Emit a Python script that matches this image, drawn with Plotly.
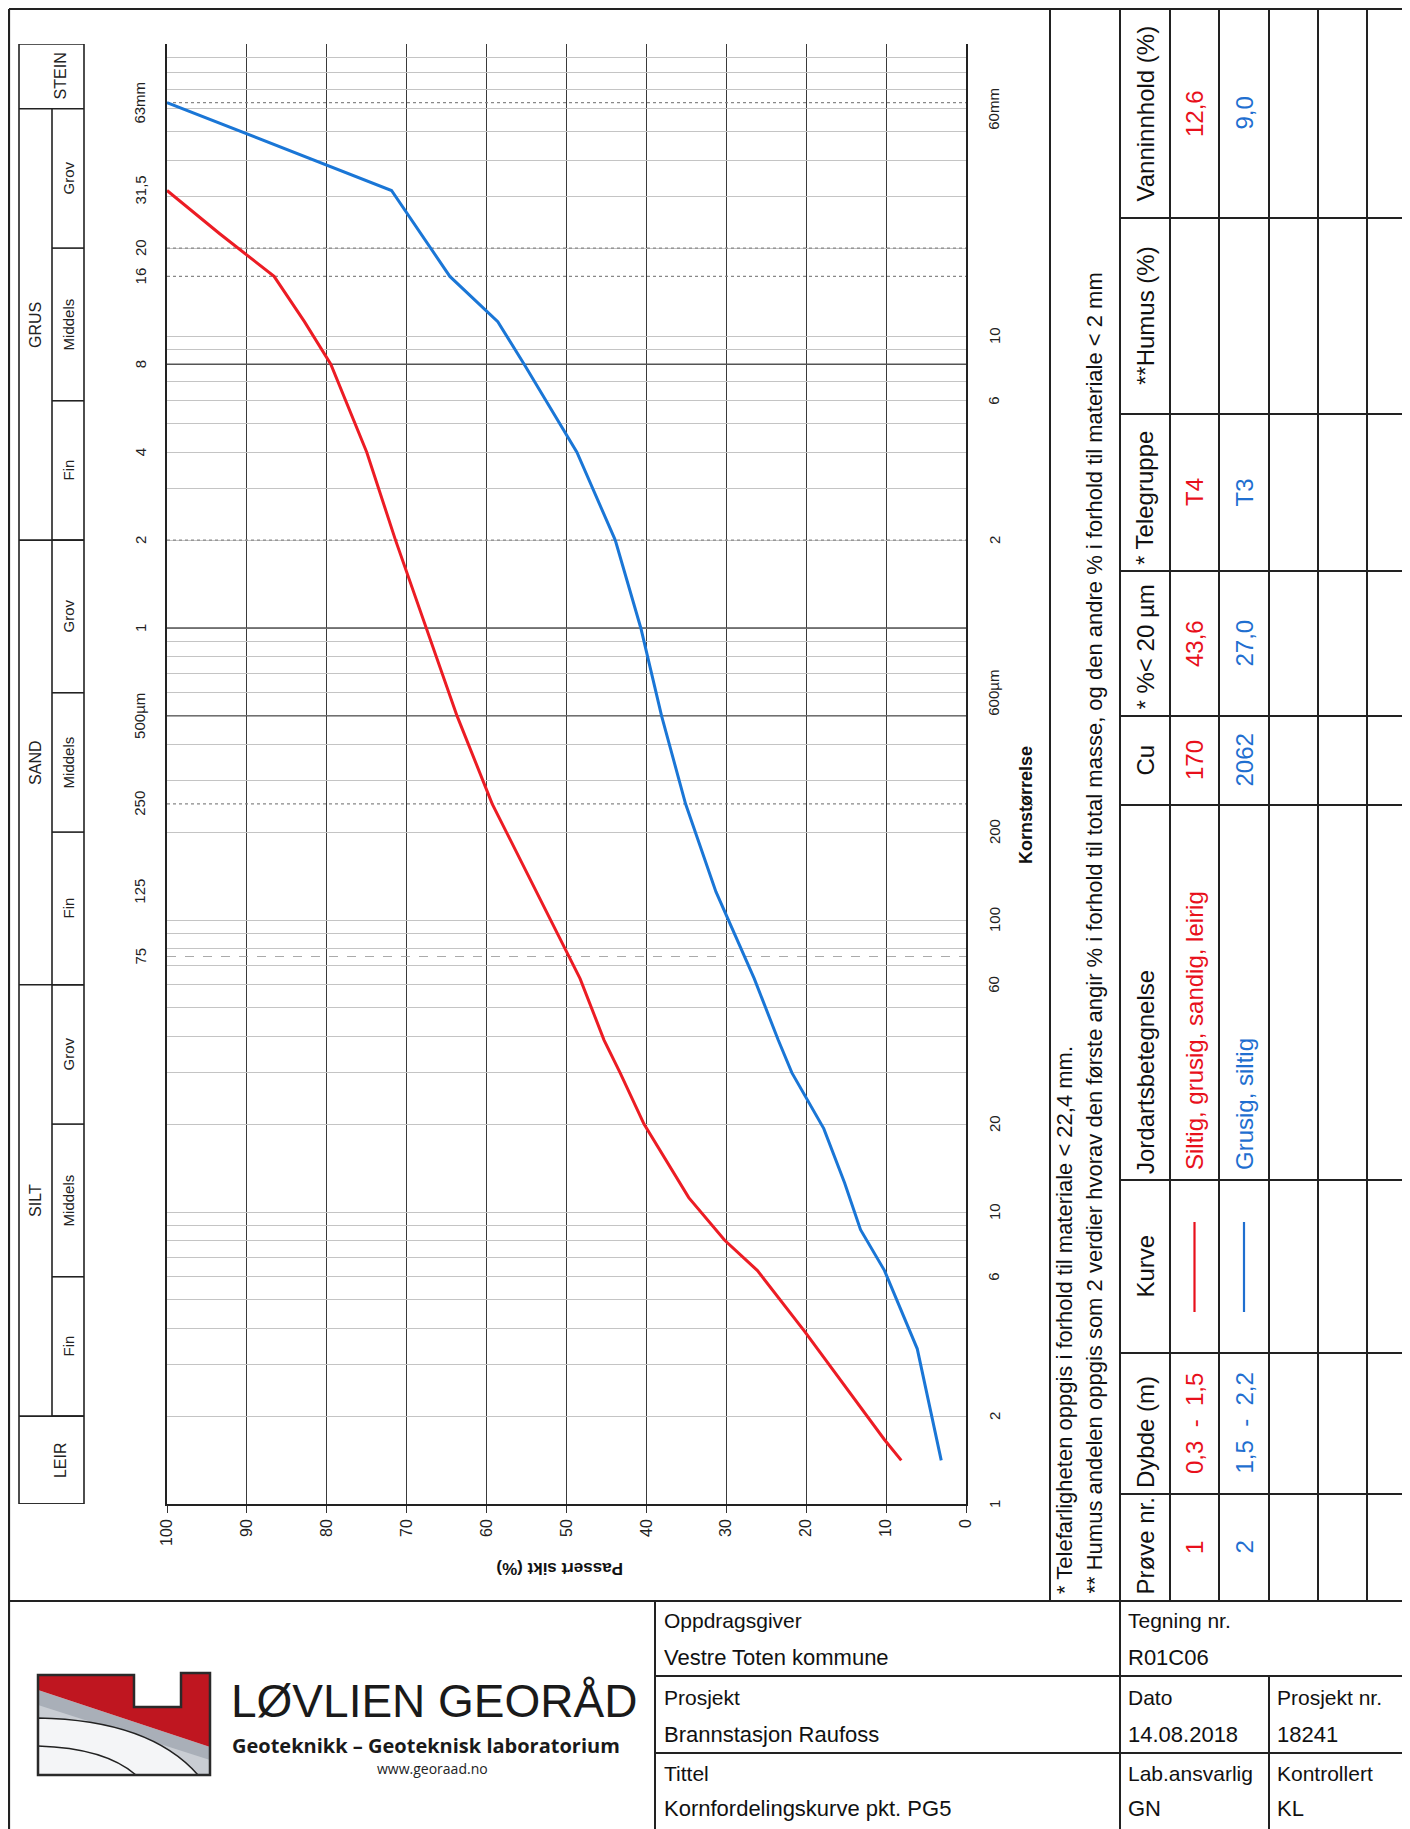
import math
import plotly.graph_objects as go

W, H = 1410, 1829          # browser window
OFF = 8                    # default body margin of the html page
FW, FH = W - OFF, H - OFF  # figure size

# ---------------- data ----------------
red_size = [31.5, 22.4, 16, 11.2, 8, 4, 2, 1, 0.5, 0.25, 0.125, 0.063, 0.0388, 0.03, 0.02,
            0.0112, 0.008, 0.0063, 0.0039, 0.00166, 0.00141]
red_pass = [100, 93.4, 86.6, 82.8, 79.5, 75.0, 71.4, 67.6, 63.7, 59.3, 53.8, 48.3, 45.3, 43.3, 40.3,
            34.7, 30.2, 26.1, 20.2, 10.2, 8.1]
blue_size = [63, 31.5, 16, 11.2, 8, 4, 2, 1, 0.5, 0.25, 0.125, 0.063, 0.0388, 0.03, 0.0193,
             0.0126, 0.0087, 0.0063, 0.0034, 0.00141]
blue_pass = [100, 71.9, 64.6, 58.6, 55.3, 48.7, 43.9, 40.7, 38.1, 35.1, 31.3, 26.5, 23.5, 21.8, 17.8,
             15.2, 13.2, 10.2, 6.1, 3.1]

pct_ticks = [0, 10, 20, 30, 40, 50, 60, 70, 80, 90, 100]
left_tick_vals = [63, 31.5, 20, 16, 8, 4, 2, 1, 0.5, 0.25, 0.125, 0.075]
left_tick_text = ["63mm", "31,5", "20", "16", "8", "4", "2", "1", "500µm", "250", "125", "75"]
right_tick_vals = [60, 10, 6, 2, 0.6, 0.2, 0.1, 0.06, 0.02, 0.01, 0.006, 0.002, 0.001]
right_tick_text = ["60mm", "10", "6", "2", "600µm", "200", "100", "60", "20", "10", "6", "2", "1"]

dark_lines = [8, 1, 0.5]
dotted_lines = [63, 20, 16, 2, 0.25]
dashed_lines = [0.075]

# soil classification strip
main_groups = [("STEIN", 60, 100), ("GRUS", 2, 60), ("SAND", 0.06, 2), ("SILT", 0.002, 0.06), ("LEIR", 0.001, 0.002)]
sub_groups = [("Grov", 20, 60), ("Middels", 6, 20), ("Fin", 2, 6),
              ("Grov", 0.6, 2), ("Middels", 0.2, 0.6), ("Fin", 0.06, 0.2),
              ("Grov", 0.02, 0.06), ("Middels", 0.006, 0.02), ("Fin", 0.002, 0.006)]

# table
headers = ["Vanninnhold (%)", "**Humus (%)", "* Telegruppe", "* %< 20 µm", "Cu",
           "Jordartsbetegnelse", "Kurve", "Dybde (m)", "Prøve nr."]
vann = ["12,6", "9,0"]
humus = ["", ""]
telegruppe = ["T4", "T3"]
pct20 = ["43,6", "27,0"]
cu = ["170", "2062"]
jordart = ["Siltig, grusig, sandig, leirig", "Grusig, siltig"]
dybde = ["0,3  -  1,5", "1,5  -  2,2"]
prove = ["1", "2"]

RED = "#ec1c24"
BLUE = "#1a76d6"
TRED = "#e8101c"
TBLUE = "#1f6fd0"
FONT = "Liberation Sans, Arial, sans-serif"

# layout geometry (page pixels)
PX0, PX1 = 167, 966
PY0, PY1 = 44, 1504

def fx(x):
    return (x - OFF) / FW

def fy(y):
    return 1 - (y - OFF) / FH

shapes = []
ann = []

def line(x0, y0, x1, y1, w=1.6, color="#222"):
    shapes.append(dict(type="line", xref="paper", yref="paper", x0=fx(x0), y0=fy(y0), x1=fx(x1), y1=fy(y1),
                       line=dict(color=color, width=w), layer="above"))

def text(x, y, s, size, angle=0, color="#111", xa="center", ya="middle", bold=False, family=FONT):
    if bold:
        s = "<b>" + s + "</b>"
    ann.append(dict(x=fx(x), y=fy(y), xref="paper", yref="paper", text=s, showarrow=False,
                    textangle=angle, xanchor=xa, yanchor=ya,
                    font=dict(size=size, color=color, family=family)))

def ytext(x, d_log, s, size):
    ann.append(dict(x=fx(x), y=d_log, xref="paper", yref="y", text=s, showarrow=False,
                    textangle=-90, xanchor="center", yanchor="middle",
                    font=dict(size=size, color="#222", family=FONT)))

fig = go.Figure()

# special sieve lines through axes
for d in dark_lines:
    fig.add_trace(go.Scatter(x=[100, 0], y=[d, d], mode="lines", line=dict(color="#555", width=1.4),
                             hoverinfo="skip", showlegend=False))
for d in dotted_lines:
    fig.add_trace(go.Scatter(x=[100, 0], y=[d, d], mode="lines", line=dict(color="#888", width=1.3, dash="dot"),
                             hoverinfo="skip", showlegend=False))
for d in dashed_lines:
    fig.add_trace(go.Scatter(x=[100, 0], y=[d, d], mode="lines", line=dict(color="#aaa", width=1.2, dash="dash"),
                             hoverinfo="skip", showlegend=False))

fig.add_trace(go.Scatter(x=red_pass, y=red_size, mode="lines", line=dict(color=RED, width=3),
                         name="Prøve 1", showlegend=False))
fig.add_trace(go.Scatter(x=blue_pass, y=blue_size, mode="lines", line=dict(color=BLUE, width=3),
                         name="Prøve 2", showlegend=False))

minor = []
for k in range(-3, 2):
    for n in range(1, 10):
        minor.append(n * 10 ** k)
minor.append(100)

fig.update_xaxes(domain=[fx(PX0), fx(PX1)], range=[100, 0], tickvals=pct_ticks,
                 ticktext=[str(v) for v in pct_ticks], tickangle=-90,
                 tickfont=dict(size=16, color="#222", family=FONT),
                 ticks="outside", ticklen=7, tickcolor="#333",
                 showgrid=True, gridcolor="#3a3a3a", gridwidth=1,
                 showline=True, linecolor="#222", linewidth=1.6, zeroline=False, mirror=False,
                 automargin=False)
fig.update_yaxes(domain=[fy(PY1), fy(PY0)], type="log", range=[-3, 2], tickvals=minor,
                 showticklabels=False, ticks="", showgrid=True, gridcolor="#c4c4c4", gridwidth=1,
                 showline=True, linecolor="#222", linewidth=1.6, mirror=True, zeroline=False,
                 automargin=False)

# axis label annotations
for v, t in zip(left_tick_vals, left_tick_text):
    ytext(140, math.log10(v), t, 15)
for v, t in zip(right_tick_vals, right_tick_text):
    ytext(994, math.log10(v), t, 15)

text(560, 1569, "Passert sikt (%)", 17, angle=180, bold=True)
text(1026, 805, "Kornstørrelse", 18, angle=-90, bold=True)
text(1064, 1596, "* Telefarligheten oppgis i forhold til materiale < 22,4 mm.", 22, angle=-90, ya="bottom")
text(1094, 1596, "** Humus andelen oppgis som 2 verdier hvorav den første angir % i forhold til total masse, "
                 "og den andre % i forhold til materiale < 2 mm", 22, angle=-90, ya="bottom")

# classification strip (data-positioned boxes)
SX0, SXM, SX1 = 19, 52, 84
def yline(d, x0, x1):
    shapes.append(dict(type="line", xref="paper", yref="y", x0=fx(x0), x1=fx(x1), y0=d, y1=d,
                       line=dict(color="#222", width=1.6)))
shapes.append(dict(type="rect", xref="paper", yref="y", x0=fx(SX0), x1=fx(SX1), y0=0.001, y1=100,
                   line=dict(color="#222", width=1.6)))
shapes.append(dict(type="line", xref="paper", yref="y", x0=fx(SXM), x1=fx(SXM), y0=0.002, y1=60,
                   line=dict(color="#222", width=1.6)))
for name, lo, hi in main_groups:
    yline(lo, SX0, SX1)
    mid = (math.log10(lo) + math.log10(hi)) / 2
    xc = 60 if name in ("STEIN", "LEIR") else (SX0 + SXM) / 2
    ytext(xc, mid, name, 16)
for name, lo, hi in sub_groups:
    yline(lo, SXM, SX1)
    mid = (math.log10(lo) + math.log10(hi)) / 2
    ytext((SXM + SX1) / 2, mid, name, 15)

# page frame / separators
line(9, 9, 9, 1829, w=2.2)
line(9, 9, 1410, 9, w=2.0)
line(9, 1601, 1410, 1601, w=2.2)
line(1050, 9, 1050, 1601, w=2.0)
line(1120, 9, 1120, 1829, w=2.0)
for xc in [1170, 1219, 1269, 1318, 1367]:
    line(xc, 9, xc, 1601, w=2.0)
line(1408, 9, 1408, 1829, w=2.0)
rows = [9, 218, 414, 571, 716, 805, 1180, 1353, 1494, 1601]
for yc in rows[1:-1]:
    line(1120, yc, 1410, yc, w=2.0)

# table text
HX, R1X, R2X = 1145, 1194.5, 1244
left_aligned_headers = {"Jordartsbetegnelse", "Dybde (m)", "Prøve nr.", "* %< 20 µm", "* Telegruppe"}
for i, h in enumerate(headers):
    y0, y1 = rows[i], rows[i + 1]
    if h in left_aligned_headers:
        text(HX, y1 - 4, h, 24, angle=-90, ya="bottom")
    else:
        text(HX, (y0 + y1) / 2, h, 24, angle=-90)

cols = [vann, humus, telegruppe, pct20, cu, jordart, None, dybde, prove]
for i, col in enumerate(cols):
    y0, y1 = rows[i], rows[i + 1]
    for j, (xc, c) in enumerate([(R1X, TRED), (R2X, TBLUE)]):
        if col is None:
            shapes.append(dict(type="line", xref="paper", yref="paper", x0=fx(xc), x1=fx(xc),
                               y0=fy(1222), y1=fy(1312), line=dict(color=c, width=2.2)))
            continue
        if col[j] == "":
            continue
        if headers[i] == "Jordartsbetegnelse":
            text(xc, y1 - 8, col[j], 24, angle=-90, ya="bottom", color=c)
        else:
            text(xc, (y0 + y1) / 2, col[j], 24, angle=-90, color=c)

# title block
line(655, 1601, 655, 1829, w=2.0)
line(655, 1676, 1410, 1676, w=2.0)
line(655, 1753, 1410, 1753, w=2.0)
line(1269, 1676, 1269, 1829, w=2.0)
TB = [(662, 1620, "Oppdragsgiver", 21), (662, 1657, "Vestre Toten kommune", 22),
      (662, 1697, "Prosjekt", 21), (662, 1734, "Brannstasjon Raufoss", 22),
      (662, 1773, "Tittel", 21), (662, 1808, "Kornfordelingskurve pkt. PG5", 22),
      (1126, 1620, "Tegning nr.", 21), (1126, 1657, "R01C06", 22),
      (1126, 1697, "Dato", 21), (1126, 1734, "14.08.2018", 22),
      (1126, 1773, "Lab.ansvarlig", 21), (1126, 1808, "GN", 22),
      (1275, 1697, "Prosjekt nr.", 21), (1275, 1734, "18241", 22),
      (1275, 1773, "Kontrollert", 21), (1275, 1808, "KL", 22)]
for x, y, s, sz in TB:
    text(x, y, s, sz, xa="left")

# logo
def path(pts, close=True):
    s = "M " + " L ".join(f"{fx(x):.5f},{fy(y):.5f}" for x, y in pts)
    return s + (" Z" if close else "")

shapes.append(dict(type="path", xref="paper", yref="paper",
                   path=path([(38, 1690), (210, 1747), (210, 1775), (38, 1775)]),
                   fillcolor="#a9afb8", line=dict(width=0)))
shapes.append(dict(type="path", xref="paper", yref="paper",
                   path=path([(38, 1705), (210, 1760), (210, 1775), (38, 1775)]),
                   fillcolor="#c9cdd3", line=dict(width=0)))
shapes.append(dict(type="path", xref="paper", yref="paper",
                   path=(f"M {fx(38):.5f},{fy(1718):.5f} Q {fx(150):.5f},{fy(1720):.5f} {fx(198):.5f},{fy(1775):.5f} "
                         f"L {fx(38):.5f},{fy(1775):.5f} Z"),
                   fillcolor="#f4f5f7", line=dict(color="#222", width=1.5)))
shapes.append(dict(type="path", xref="paper", yref="paper",
                   path=f"M {fx(38):.5f},{fy(1746):.5f} Q {fx(105):.5f},{fy(1748):.5f} {fx(136):.5f},{fy(1775):.5f}",
                   line=dict(color="#222", width=1.5)))
shapes.append(dict(type="path", xref="paper", yref="paper",
                   path=path([(38, 1675), (134, 1675), (134, 1707), (181, 1707), (181, 1673), (210, 1673),
                              (210, 1747), (38, 1690)]),
                   fillcolor="#bf1620", line=dict(width=0)))
shapes.append(dict(type="path", xref="paper", yref="paper",
                   path=path([(38, 1675), (134, 1675), (134, 1707), (181, 1707), (181, 1673), (210, 1673),
                              (210, 1775), (38, 1775)]),
                   line=dict(color="#2a2a2a", width=2.5)))

text(229, 1701, "LØVLIEN GEORÅD", 46, xa="left", color="#1a1a1a")
text(230, 1745, "Geoteknikk – Geoteknisk laboratorium", 20, xa="left", bold=True,
     family="Open Sans, Liberation Sans, sans-serif", color="#1a1a1a")
text(432, 1768, "www.georaad.no", 14, family="Open Sans, Liberation Sans, sans-serif", color="#222")

fig.update_layout(template="none", width=FW, height=FH, margin=dict(l=0, r=0, t=0, b=0, pad=0),
                  paper_bgcolor="white", plot_bgcolor="white",
                  shapes=shapes, annotations=ann, showlegend=False)

fig.write_html("out.html")
